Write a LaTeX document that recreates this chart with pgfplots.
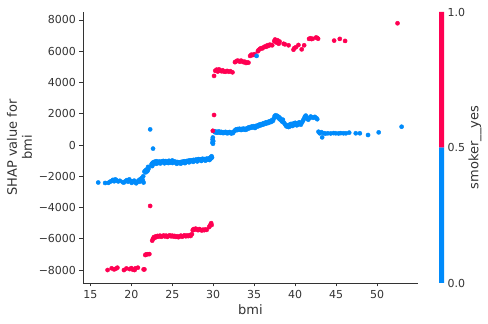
\documentclass[border=0pt]{standalone}
\usepackage{fontspec}
\setmainfont{DejaVu Sans}
\usepackage{pgfplots}
\pgfplotsset{compat=1.18}
\definecolor{shapblue}{RGB}{0,139,251}
\definecolor{shapred}{RGB}{255,0,82}
\definecolor{axgray}{RGB}{51,51,51}
\begin{document}
\begin{tikzpicture}
\begin{axis}[
  at={(0pt,0pt)}, anchor=south west,
  width=335pt, height=271pt, scale only axis,
  xmin=14.1, xmax=55.0, ymin=-8830, ymax=8510,
  axis x line*=bottom, axis y line*=left,
  x axis line style={-}, y axis line style={-},
  axis line style={axgray, line width=0.8pt},
  xtick={15,20,...,50},
  ytick={-8000,-6000,-4000,-2000,0,2000,4000,6000,8000},
  yticklabels={−8000,−6000,−4000,−2000,0,2000,4000,6000,8000},
  tick align=outside, major tick length=3.5pt,
  tick style={axgray, line width=0.8pt},
  ticklabel style={font=\fontsize{11}{13}\selectfont, text=axgray},
  /pgf/number format/assume math mode=true,
  xlabel={bmi}, ylabel={SHAP value for\\bmi},
  label style={font=\fontsize{13}{15}\selectfont, text=axgray},
  xlabel style={at={(axis description cs:0.5,-0.0996)}, anchor=center},
  ylabel style={at={(axis description cs:-0.1896,0.5)}, anchor=center, align=center},
  clip=false,
]
\addplot[only marks, mark=*, mark size=2.1pt, color=shapblue, mark options={solid, fill=shapblue, draw=shapblue}] coordinates {
(15.96,-2400)(16.8,-2430)(17.2,-2420)(17.4,-2350)(17.6,-2300)(17.75,-2230)(17.9,-2320)(18.05,-2200)(18.2,-2260)(18.4,-2330)(18.6,-2290)(18.95,-2380)(19.1,-2400)(19.3,-2310)(19.45,-2250)(19.6,-2350)(19.75,-2200)(19.9,-2300)(20.05,-2420)(20.2,-2330)(20.35,-2280)(20.5,-2380)(20.6,-2450)(20.75,-2340)(20.9,-2260)(21.0,-2350)(21.1,-2180)(21.2,-2300)(21.3,-2100)(21.4,-2250)(21.5,-2400)(21.45,-2000)
(21.6,-1700)(21.7,-1650)(21.75,-1750)(21.8,-1600)(21.9,-1560)(21.95,-1680)(22.0,-1600)(22.1,-1520)(22.05,-1400)
(22.3,1000)(22.65,-230)
(22.45,-1300)(22.5,-1200)(22.55,-1350)(22.6,-1150)(22.7,-1100)(22.8,-1180)(22.9,-1060)(23.0,-1120)(23.1,-1040)(23.2,-1100)(23.3,-1150)(23.4,-1060)(23.5,-1090)(23.6,-1130)(23.7,-1050)(23.8,-1080)(23.9,-1020)(24.0,-1110)(24.1,-1060)(24.2,-1030)(24.3,-1090)(24.4,-1140)(24.5,-1070)(24.6,-1010)(24.7,-1080)(24.8,-1120)(24.9,-1040)(25.0,-990)(25.1,-1080)(25.2,-1050)(25.3,-1110)(25.4,-1070)(25.5,-1130)(25.6,-1090)(25.7,-1150)(25.8,-1100)(25.9,-1160)(26.0,-1120)(26.1,-1080)(26.2,-1130)(26.3,-1060)(26.4,-1100)(26.5,-1040)(26.6,-1110)(26.7,-1070)(26.8,-1020)(26.9,-1060)(27.0,-1000)(27.1,-1050)(27.2,-980)(27.3,-1030)(27.4,-990)(27.5,-1010)(27.6,-950)(27.7,-1000)(27.8,-970)(27.9,-930)(28.0,-990)(28.1,-940)(28.2,-900)(28.3,-960)(28.4,-920)(28.5,-970)(28.6,-910)(28.7,-880)(28.8,-940)(28.9,-900)(29.0,-960)(29.1,-920)(29.2,-870)(29.3,-930)(29.4,-890)(29.5,-850)(29.6,-900)(29.7,-780)(29.75,-850)(29.8,-720)(29.85,-800)
(23.05,-1200)(23.55,-1180)(24.05,-1170)(24.55,-1150)(25.05,-1150)(25.55,-1200)(26.05,-1190)(26.55,-1160)(27.05,-1110)(27.55,-1080)(28.05,-1050)(28.55,-1020)(29.05,-1000)(29.55,-960)
(29.9,150)(29.92,350)(29.95,480)(30.0,250)(29.97,80)
(30.1,880)(30.2,820)(30.3,860)(30.4,790)(30.5,840)(30.6,800)(30.7,870)(30.8,820)(30.9,780)(31.0,840)(31.1,800)(31.2,760)(31.3,820)(31.4,780)(31.5,840)(31.6,790)(31.7,750)(31.8,810)(31.9,770)(32.0,830)(32.1,780)(32.2,740)(32.3,800)(32.4,760)(32.5,850)(32.6,900)(32.7,960)(32.8,1000)(32.9,950)(33.0,1020)(33.1,980)(33.2,1040)(33.3,1000)(33.4,960)(33.5,1030)(33.6,990)(33.7,1050)(33.8,1010)(33.9,970)(34.0,1040)(34.1,1000)(34.2,1080)(34.3,1120)(34.4,1070)(34.5,1150)(34.6,1100)(34.7,1180)(34.8,1130)(34.9,1200)(35.0,1150)(35.1,1090)(35.2,1220)(35.3,1170)(35.4,1250)(35.5,1200)(35.6,1300)(35.7,1240)(35.8,1330)(35.9,1280)(36.0,1360)(36.1,1310)(36.2,1400)(36.3,1350)(36.4,1440)(36.5,1380)(36.6,1460)(36.7,1410)(36.8,1500)(36.9,1450)(37.0,1540)(37.1,1480)(37.2,1600)(37.3,1550)(37.4,1700)(37.5,1850)(37.6,1900)(37.7,1820)(37.8,1870)(37.9,1760)(38.0,1800)(38.1,1650)(38.2,1700)(38.3,1580)(38.4,1500)(38.5,1620)(38.6,1450)(38.7,1380)(38.8,1300)(38.9,1220)(39.0,1180)(39.1,1250)(39.2,1150)(39.3,1300)(39.4,1200)(39.5,1350)(39.6,1280)(39.7,1220)(39.8,1380)(39.9,1300)(40.0,1420)(40.1,1340)(40.2,1260)(40.3,1400)(40.4,1320)(40.5,1450)(40.6,1380)(40.7,1300)(40.8,1420)(40.9,1500)(41.0,1600)(41.1,1700)(41.2,1820)(41.3,1880)(41.4,1760)(41.5,1680)(41.6,1620)(41.7,1700)(41.8,1760)(41.9,1820)(42.0,1780)(42.2,1740)(42.4,1800)(42.6,1720)(42.7,1650)
(42.85,850)(43.0,750)(43.3,490)(43.2,820)(43.5,760)(43.7,730)(44.0,750)(44.35,740)(44.7,760)(44.96,750)(45.3,740)(45.57,760)(45.9,750)(46.2,750)(46.6,790)(47.4,750)(47.9,750)(48.9,640)(50.2,810)(53.0,1170)
};
\addplot[only marks, mark=*, mark size=2.1pt, color=shapred, mark options={solid, fill=shapred, draw=shapred}] coordinates {
(17.1,-8000)(17.6,-7890)(17.9,-7960)(18.1,-7920)(18.3,-7850)(19.1,-8000)(19.4,-7900)(19.8,-7940)(20.0,-7880)(20.2,-7980)(20.4,-8000)(20.5,-7890)(20.8,-7850)(21.5,-7960)(21.6,-7960)
(21.7,-7040)(21.8,-7000)(22.0,-6990)(22.2,-6980)
(22.3,-3900)
(22.55,-6120)(22.65,-6000)(22.75,-5900)(22.85,-5950)(22.95,-5850)(23.1,-5880)(23.2,-5820)(23.35,-5860)(23.5,-5800)(23.65,-5870)(23.8,-5830)(23.95,-5790)(24.1,-5850)(24.25,-5800)(24.4,-5880)(24.55,-5820)(24.7,-5780)(24.85,-5840)(25.0,-5800)(25.15,-5860)(25.3,-5820)(25.45,-5880)(25.6,-5840)(25.75,-5900)(25.9,-5850)(26.05,-5800)(26.2,-5870)(26.35,-5820)(26.5,-5780)(26.65,-5840)(26.8,-5790)(26.95,-5830)(27.1,-5770)(27.25,-5820)(27.4,-5700)(27.5,-5450)(27.6,-5380)(27.7,-5420)(27.85,-5350)(28.0,-5400)(28.15,-5450)(28.3,-5380)(28.45,-5420)(28.6,-5470)(28.75,-5420)(28.9,-5450)(29.05,-5400)(29.2,-5430)(29.5,-5250)(29.6,-5150)(29.7,-5080)(29.75,-5000)(29.8,-5120)
(29.95,910)(30.1,1920)
(30.1,4420)(30.25,4750)(30.4,4820)(30.55,4700)(30.7,4840)(30.85,4760)(31.0,4720)(31.15,4780)(31.3,4700)(31.5,4690)(31.7,4740)(31.9,4690)(32.1,4720)(32.35,4650)
(32.65,5300)(32.8,5350)(32.95,5400)(33.1,5380)(33.25,5330)(33.4,5400)(33.55,5350)(33.7,5300)(33.85,5330)(34.0,5250)(34.15,5280)(34.3,5270)
(34.5,5700)(34.65,5780)(34.8,5750)(35.0,5810)(35.1,5760)(35.45,6000)(35.55,6080)(35.7,6150)(35.85,6200)(36.0,6180)(36.15,6250)(36.3,6300)(36.45,6280)(36.6,6380)(36.75,6340)(36.9,6420)(37.05,6400)(37.2,6380)
(37.45,6650)(37.55,6750)(37.65,6600)(37.75,6550)(37.85,6700)(38.0,6480)(38.1,6620)(38.6,6480)(38.75,6440)(39.2,6380)(39.8,6100)(39.9,6200)(40.1,6260)(40.4,6400)(40.8,6120)(41.1,6380)
(41.7,6790)(41.85,6830)(42.0,6780)(42.15,6800)(42.55,6880)(42.7,6850)(42.8,6800)
(44.76,6680)(45.45,6790)(46.1,6660)(52.5,7790)
};
\addplot[only marks, mark=*, mark size=2.1pt, color=shapblue, mark options={solid, fill=shapblue, draw=shapblue}] coordinates {(35.3,5700)};
\end{axis}
\begin{axis}[
  at={(356pt,0pt)}, anchor=south west,
  width=5pt, height=271pt, scale only axis,
  xmin=0, xmax=1, ymin=0, ymax=1,
  hide x axis,
  axis y line*=right, y axis line style={draw=none},
  ytick={0,0.5,1}, yticklabels={0.0,0.5,1.0},
  major tick length=0pt,
  yticklabel style={font=\fontsize{11}{13}\selectfont, text=axgray},
  ylabel={smoker\_\_yes},
  ylabel style={font=\fontsize{13}{15}\selectfont, text=axgray, at={(axis description cs:7.2,0.5)}, anchor=center},
  clip=false,
]
\addplot[fill=shapblue, draw=none] coordinates {(0,0)(1,0)(1,0.5)(0,0.5)(0,0)};
\addplot[fill=shapred, draw=none] coordinates {(0,0.5)(1,0.5)(1,1)(0,1)(0,0.5)};
\end{axis}
\pgfresetboundingbox
\path[use as bounding box] (-83pt,-41pt) rectangle (405pt,283pt);
\end{tikzpicture}
\end{document}
